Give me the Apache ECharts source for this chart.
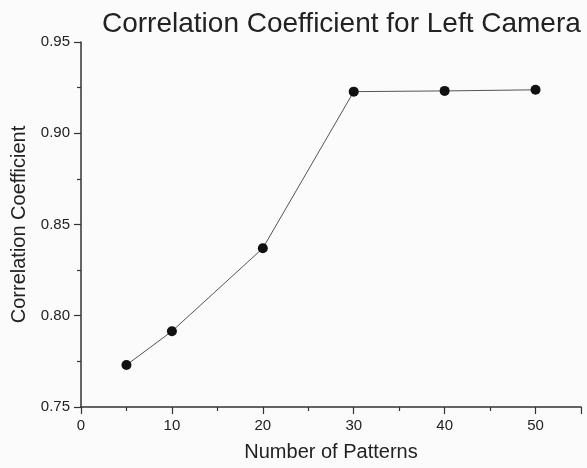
<!DOCTYPE HTML>
<html>
	<head>
		<meta http-equiv="Content-type" content="text/html; charset=UTF-8" />
		<script type="text/javascript" src="https://cdn.jsdelivr.net/npm/echarts@6/dist/echarts.min.js"></script>
		<style>
			html, body { margin: 0; padding: 0; background: #fbfbfb; }
		</style>
	</head>
	<body>
		<div id="div_1" style="width: 587px;height:468px;"></div>
		<script type="text/javascript">
			var patterns = [5, 10, 20, 30, 40, 50];
			var coeff = [0.773, 0.7915, 0.837, 0.9228, 0.9232, 0.9238];
			var yTicks = [0.75, 0.80, 0.85, 0.90, 0.95];

			var ink = '#222';
			var font = 'Liberation Sans, Arial, sans-serif';

			var points = [];
			for (var i = 0; i < patterns.length; i++) {
				points.push([patterns[i], coeff[i]]);
			}

			var option = {
				backgroundColor: '#fbfbfb',
				animation: false,
				title: {
					text: 'Correlation Coefficient for Left Camera',
					left: 102,
					top: 10,
					padding: 0,
					textStyle: { fontFamily: font, fontSize: 28, fontWeight: 'normal', color: ink }
				},
				grid: { left: 81, right: 6, top: 42, bottom: 61 },
				xAxis: {
					type: 'value',
					min: 0,
					max: 55,
					interval: 10,
					name: 'Number of Patterns',
					nameLocation: 'middle',
					nameGap: 35,
					nameTextStyle: { fontFamily: font, fontSize: 20, color: ink },
					axisLine: { lineStyle: { color: '#333', width: 1.5 } },
					axisTick: { show: true, inside: false, length: 7, lineStyle: { color: '#333', width: 1.2 } },
					minorTick: { show: true, splitNumber: 2, length: 4, lineStyle: { color: '#333', width: 1.2 } },
					axisLabel: { fontFamily: font, fontSize: 15, color: ink, margin: 11,
						formatter: function (v) { return v > 50 ? '' : String(v); } },
					splitLine: { show: false }
				},
				yAxis: {
					type: 'value',
					min: yTicks[0],
					max: yTicks[yTicks.length - 1],
					interval: 0.05,
					name: 'Correlation Coefficient',
					nameLocation: 'middle',
					nameGap: 48,
					nameTextStyle: { fontFamily: font, fontSize: 20, color: ink },
					axisLine: { show: true, lineStyle: { color: '#333', width: 1.5 } },
					axisTick: { show: true, inside: false, length: 7, lineStyle: { color: '#333', width: 1.2 } },
					minorTick: { show: true, splitNumber: 2, length: 4, lineStyle: { color: '#333', width: 1.2 } },
					axisLabel: { fontFamily: font, fontSize: 15, color: ink, margin: 11,
						formatter: function (v) { return v.toFixed(2); } },
					splitLine: { show: false }
				},
				series: [{
					type: 'line',
					data: points,
					symbol: 'circle',
					symbolSize: 10,
					itemStyle: { color: '#111' },
					lineStyle: { color: '#555', width: 1 }
				}]
			};

			var myChart = echarts.init(document.getElementById("div_1"));
			myChart.setOption(option);
		</script>
	</body>
</html>
